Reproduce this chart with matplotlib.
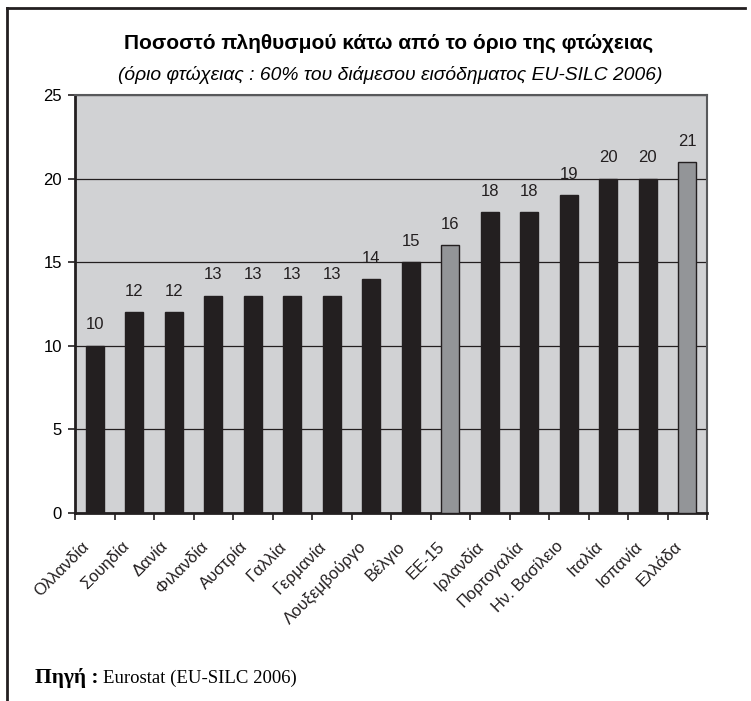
import matplotlib
matplotlib.use("Agg")
import matplotlib.pyplot as plt
from matplotlib.lines import Line2D
from matplotlib.transforms import ScaledTranslation, blended_transform_factory
import numpy as np

categories = ["Ολλανδία", "Σουηδία", "Δανία", "Φιλανδία", "Αυστρία", "Γαλλία",
              "Γερμανία", "Λουξεμβούργο", "Βέλγιο", "ΕΕ-15", "Ιρλανδία",
              "Πορτογαλία", "Ην. Βασίλειο", "Ιταλία", "Ισπανία", "Ελλάδα"]
values = [10, 12, 12, 13, 13, 13, 13, 14, 15, 16, 18, 18, 19, 20, 20, 21]
highlight = ["ΕΕ-15", "Ελλάδα"]
yticks = [0, 5, 10, 15, 20, 25]

title = "Ποσοστό πληθυσμού κάτω από το όριο της φτώχειας"
subtitle = "(όριο φτώχειας : 60% του διάμεσου εισόδηματος EU-SILC 2006)"

W, H = 751, 701
fig = plt.figure(figsize=(W / 100, H / 100), dpi=100)
fig.patch.set_facecolor("white")

ax = fig.add_axes([75 / W, 1 - 513 / H, (707 - 75) / W, (513 - 95) / H])
ax.set_facecolor("#d1d2d4")
x = np.arange(len(categories))
colors = ["#939598" if c in highlight else "#231f20" for c in categories]
ax.bar(x, values, width=0.46, color=colors, edgecolor="#231f20", linewidth=1.0, zorder=3)
for xi, v in zip(x, values):
    ax.text(xi, v + 0.8, f"{v}", ha="center", va="bottom", fontsize=12,
            family="Liberation Sans", color="#231f20")

ax.set_xlim(-0.5, len(categories) - 0.5)
ax.set_ylim(0, 25)
ax.set_yticks(yticks)
ax.set_yticklabels([str(t) for t in yticks], fontsize=12, family="Liberation Sans")
ax.yaxis.grid(True, color="#231f20", linewidth=0.9, zorder=1)
ax.set_axisbelow(True)

# category labels, drawn as rotated texts below the axis
ax.set_xticks([])
trans = blended_transform_factory(ax.transData, ax.transAxes) + \
    ScaledTranslation(-8 / 100, -31 / 100, fig.dpi_scale_trans)
for xi, cat in zip(x, categories):
    ax.text(xi, 0, cat, transform=trans, rotation=45, ha="right", va="center",
            rotation_mode="anchor", fontsize=12, family="Liberation Sans",
            color="#231f20", clip_on=False)

ax.set_xticks(np.arange(-0.5, len(categories), 1), minor=True)
ax.tick_params(axis="x", which="minor", length=5, width=1.2, direction="out", color="#231f20")
ax.tick_params(axis="y", length=5, width=1.2, direction="out", color="#231f20", pad=4.5)

for s in ["left", "bottom"]:
    ax.spines[s].set_linewidth(2.0)
    ax.spines[s].set_color("#231f20")
for s in ["top", "right"]:
    ax.spines[s].set_linewidth(1.5)
    ax.spines[s].set_color("#58595b")

fig.text(389 / W, 1 - 43 / H, title, ha="center", va="center", fontsize=15,
         fontweight="bold", family="Liberation Sans")
fig.text(390 / W, 1 - 75 / H, subtitle, ha="center", va="center", fontsize=13.9,
         style="italic", family="Liberation Sans")

fig.text(35 / W, 1 - 678 / H, "Πηγή :", ha="left", va="center", fontsize=15.5,
         fontweight="bold", family="Liberation Serif")
fig.text(103 / W, 1 - 678 / H, "Eurostat (EU-SILC 2006)", ha="left", va="center",
         fontsize=13.5, family="Liberation Serif")

fig.add_artist(Line2D([7 / W, 745 / W], [1 - 8 / H, 1 - 8 / H], color="#231f20", linewidth=2))
fig.add_artist(Line2D([7 / W, 7 / W], [1 - 8 / H, 0], color="#231f20", linewidth=2))

fig.savefig("out.png", dpi=100)
